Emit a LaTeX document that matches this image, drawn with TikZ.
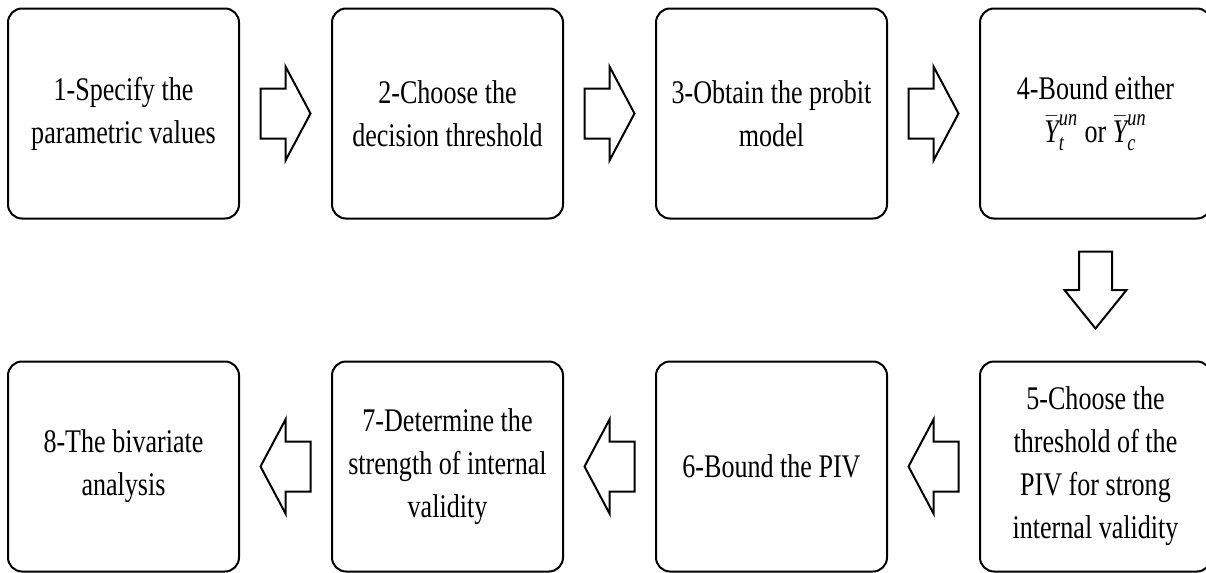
\documentclass[tikz,border=0pt]{standalone}
\usepackage{amsmath}
\usepackage{fontspec}
\setmainfont{Liberation Serif}[FakeStretch=0.79]
\usetikzlibrary{calc}

\newcommand{\mv}[1]{\text{\itshape #1}}

\tikzset{
  stepbox/.style={draw, line width=1pt, rounded corners=7pt,
    minimum width=115.5pt, minimum height=105pt, inner sep=0pt,
    align=center, font=\fontsize{16.5}{21.5}\selectfont},
  blockarrow/.pic={
    \draw[line width=1pt, line join=miter]
      (-25,-25) -- (0,-25) -- (0,-47) -- (25,0) -- (0,47) -- (0,25) -- (-25,25) -- cycle;
  }
}

\begin{document}
\begin{tikzpicture}[x=0.5pt, y=-0.5pt]
  \useasboundingbox (0,0) rectangle (1206,573);

  % top row
  \node[stepbox] (b1) at (123.5,113.5) {1-Specify the\\parametric values};
  \node[stepbox] (b2) at (447.5,113.5) {2-Choose the\\decision threshold};
  \node[stepbox] (b3) at (771.5,113.5) {3-Obtain the probit\\model};
  \node[stepbox] (b4) at (1095.5,113.5) {4-Bound either\\$\bar{\mv{Y}}_{\mv{t}}^{\mv{un}}$ or $\bar{\mv{Y}}_{\mv{c}}^{\mv{un}}$};

  % bottom row
  \node[stepbox] (b5) at (1095.5,466.5) {5-Choose the\\threshold of the\\PIV for strong\\internal validity};
  \node[stepbox] (b6) at (771.5,466.5) {6-Bound the PIV};
  \node[stepbox] (b7) at (447.5,466.5) {7-Determine the\\strength of internal\\validity};
  \node[stepbox] (b8) at (123.5,466.5) {8-The bivariate\\analysis};

  % block arrows
  \foreach \a/\b in {b1/b2,b2/b3,b3/b4}
    \pic at ($(\a.east)!0.5!(\b.west)$) {blockarrow};
  \pic[rotate=-90, xscale=1.54, yscale=0.66] at ($(b4.south)!0.5!(b5.north)$) {blockarrow};
  \foreach \a/\b in {b5/b6,b6/b7,b7/b8}
    \pic[rotate=180] at ($(\a.west)!0.5!(\b.east)$) {blockarrow};
\end{tikzpicture}
\end{document}
